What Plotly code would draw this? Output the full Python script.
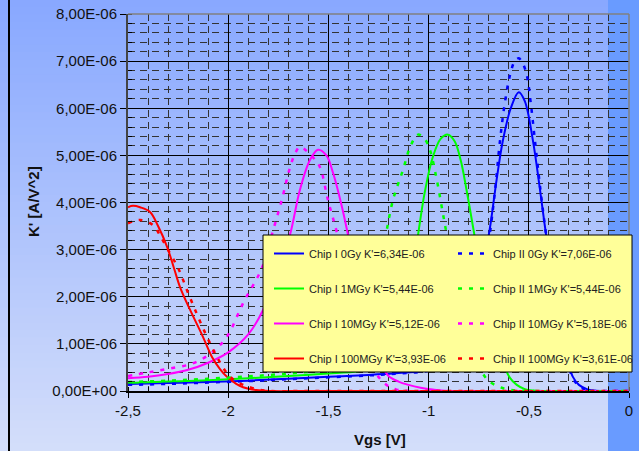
import plotly.graph_objects as go

# ---------------- data (K' in units of 1E-06 A/V^2) ----------------
x_ticks = [-2.5, -2.0, -1.5, -1.0, -0.5, 0.0]
x_ticktext = ["-2,5", "-2", "-1,5", "-1", "-0,5", "0"]
y_ticks = [0, 1, 2, 3, 4, 5, 6, 7, 8]
y_ticktext = ["0,00E+00", "1,00E-06", "2,00E-06", "3,00E-06", "4,00E-06",
              "5,00E-06", "6,00E-06", "7,00E-06", "8,00E-06"]

x_I_0Gy = [-2.5, -2.3, -2.1, -1.9, -1.7, -1.5, -1.3, -1.15, -1.0, -0.92, -0.85, -0.79, -0.74, -0.70,
           -0.66, -0.63, -0.59, -0.55, -0.52, -0.48, -0.445, -0.41, -0.37, -0.33, -0.30, -0.28,
           -0.25, -0.21, -0.18, -0.12, 0.0]
y_I_0Gy = [0.15, 0.17, 0.19, 0.22, 0.26, 0.30, 0.34, 0.38, 0.44, 0.55, 0.85, 1.5, 2.5, 3.3,
           4.5, 5.3, 6.0, 6.34, 6.15, 5.33, 4.3, 3.2, 2.1, 1.1, 0.55, 0.3,
           0.13, 0.04, 0.01, 0.0, 0.0]

x_II_0Gy = [-2.5, -2.3, -2.1, -1.9, -1.7, -1.5, -1.3, -1.15, -1.0, -0.92, -0.85, -0.79, -0.74, -0.70,
            -0.67, -0.644, -0.62, -0.594, -0.57, -0.55, -0.53, -0.51, -0.49, -0.469, -0.44, -0.41,
            -0.37, -0.33, -0.30, -0.27, -0.23, -0.19, -0.12, 0.0]
y_II_0Gy = [0.13, 0.15, 0.18, 0.21, 0.25, 0.29, 0.33, 0.37, 0.43, 0.55, 0.85, 1.5, 2.4, 3.2,
            4.2, 5.3, 6.1, 6.7, 7.0, 7.06, 6.95, 6.7, 6.1, 5.3, 4.2, 3.2,
            2.0, 1.0, 0.5, 0.2, 0.05, 0.01, 0.0, 0.0]

x_I_1MGy = [-2.5, -2.3, -2.1, -1.9, -1.7, -1.5, -1.35, -1.25, -1.18, -1.13, -1.09, -1.053, -1.02,
            -0.98, -0.94, -0.903, -0.87, -0.84, -0.81, -0.773, -0.74, -0.70, -0.66, -0.62, -0.594,
            -0.56, -0.52, -0.48, -0.4, 0.0]
y_I_1MGy = [0.17, 0.2, 0.23, 0.27, 0.32, 0.37, 0.42, 0.5, 0.75, 1.3, 2.2, 3.3, 4.2,
            4.95, 5.35, 5.44, 5.3, 4.9, 4.25, 3.35, 2.5, 1.6, 0.95, 0.5, 0.28,
            0.13, 0.04, 0.01, 0.0, 0.0]

x_II_1MGy = [-2.5, -2.3, -2.1, -1.9, -1.7, -1.55, -1.45, -1.37, -1.31, -1.27, -1.24, -1.218, -1.178,
             -1.128, -1.09, -1.053, -1.02, -0.993, -0.96, -0.93, -0.9, -0.86, -0.82, -0.78, -0.74,
             -0.704, -0.654, -0.6, -0.5, 0.0]
y_II_1MGy = [0.19, 0.22, 0.26, 0.31, 0.37, 0.43, 0.5, 0.75, 1.3, 2.0, 2.7, 3.2, 4.05,
             4.69, 5.2, 5.44, 5.35, 5.11, 4.5, 3.8, 3.1, 2.2, 1.4, 0.85, 0.45,
             0.23, 0.1, 0.03, 0.0, 0.0]

x_I_10MGy = [-2.5, -2.4, -2.3, -2.2, -2.1, -2.0, -1.9, -1.826, -1.76, -1.692, -1.642, -1.592, -1.552,
             -1.51, -1.477, -1.432, -1.402, -1.36, -1.32, -1.28, -1.24, -1.2, -1.15, -1.1, -1.04,
             -0.98, -0.9, 0.0]
y_I_10MGy = [0.27, 0.3, 0.36, 0.45, 0.6, 0.82, 1.2, 1.72, 2.45, 3.31, 4.27, 4.9, 5.12,
             5.0, 4.63, 3.9, 3.31, 2.45, 1.7, 1.1, 0.6, 0.32, 0.2, 0.13, 0.07,
             0.03, 0.0, 0.0]

x_II_10MGy = [-2.5, -2.407, -2.3, -2.174, -2.08, -2.007, -1.925, -1.833, -1.78, -1.733, -1.695,
              -1.665, -1.642, -1.61, -1.575, -1.542, -1.502, -1.457, -1.42, -1.38, -1.33, -1.28,
              -1.24, -1.2, -1.16, -1.1, 0.0]
y_II_10MGy = [0.32, 0.39, 0.47, 0.59, 0.82, 1.15, 1.87, 2.6, 3.35, 4.05, 4.69,
              5.05, 5.18, 5.1, 4.95, 4.75, 4.05, 3.35, 2.6, 1.8, 1.0, 0.5,
              0.25, 0.1, 0.03, 0.0, 0.0]

x_I_100MGy = [-2.5, -2.475, -2.44, -2.39, -2.35, -2.305, -2.27, -2.24, -2.19, -2.126, -2.081,
              -2.04, -2.006, -1.96, -1.926, -1.86, -1.79, -1.6, 0.0]
y_I_100MGy = [3.9, 3.93, 3.9, 3.8, 3.5, 3.06, 2.6, 2.2, 1.72, 1.15, 0.72,
              0.46, 0.3, 0.15, 0.08, 0.02, 0.0, 0.0, 0.0]

x_II_100MGy = [-2.5, -2.44, -2.375, -2.34, -2.305, -2.25, -2.2, -2.15, -2.106, -2.056, -2.006,
               -1.96, -1.906, -1.85, -1.79, -1.6, 0.0]
y_II_100MGy = [3.56, 3.63, 3.52, 3.3, 3.03, 2.61, 2.08, 1.57, 1.15, 0.72, 0.38,
               0.2, 0.1, 0.03, 0.0, 0.0, 0.0]

series = [
    ("Chip I 0Gy K'=6,34E-06", x_I_0Gy, y_I_0Gy, "#0000ff", "solid", "legend"),
    ("Chip I 1MGy K'=5,44E-06", x_I_1MGy, y_I_1MGy, "#00ff00", "solid", "legend"),
    ("Chip I 10MGy K'=5,12E-06", x_I_10MGy, y_I_10MGy, "#ff00ff", "solid", "legend"),
    ("Chip I 100MGy K'=3,93E-06", x_I_100MGy, y_I_100MGy, "#ff0000", "solid", "legend"),
    ("Chip II 0Gy K'=7,06E-06", x_II_0Gy, y_II_0Gy, "#0000ff", "dash", "legend2"),
    ("Chip II 1MGy K'=5,44E-06", x_II_1MGy, y_II_1MGy, "#00ff00", "dash", "legend2"),
    ("Chip II 10MGy K'=5,18E-06", x_II_10MGy, y_II_10MGy, "#ff00ff", "dash", "legend2"),
    ("Chip II 100MGy K'=3,61E-06", x_II_100MGy, y_II_100MGy, "#ff0000", "dash", "legend2"),
]

fig = go.Figure()
for i, (name, xs, ys, col, style, lg) in enumerate(series):
    fig.add_trace(go.Scatter(
        x=xs, y=ys, name=name, mode="lines",
        line=dict(color=col, width=2 if style == "solid" else 2.5,
                  dash="solid" if style == "solid" else "4px,7px",
                  shape="spline", smoothing=1.0),
        legend=lg, legendgroup="g%d" % i,
    ))

# ---------------- geometry helpers (paper coords) ----------------
L, R, T, B = 128, 629, 14, 391
W, H = 639, 451
def px(xp):
    return (xp - L) / (R - L)
def py(yp):
    return (B - yp) / (B - T)

shapes = []
# vertical gradient background
top_c = (136, 168, 255)
bot_c = (212, 222, 250)
nb = 60
for k in range(nb):
    t = (k + 0.5) / nb
    c = tuple(int(round(top_c[j] + (bot_c[j] - top_c[j]) * t)) for j in range(3))
    y0 = H * k / nb - 0.5
    y1 = H * (k + 1) / nb + 0.5
    shapes.append(dict(type="rect", xref="paper", yref="paper", layer="below",
                       x0=px(-2), x1=px(W + 2), y0=py(y1), y1=py(y0),
                       fillcolor="rgb(%d,%d,%d)" % c, line=dict(width=0)))
# right strong-blue strip
shapes.append(dict(type="rect", xref="paper", yref="paper", layer="below",
                   x0=px(608), x1=px(W + 2), y0=py(H + 2), y1=py(-2),
                   fillcolor="rgb(105,155,255)", line=dict(width=0)))
# left black line
shapes.append(dict(type="line", xref="paper", yref="paper", layer="below",
                   x0=px(9), x1=px(9), y0=py(H + 2), y1=py(-2),
                   line=dict(color="black", width=2)))
# plot frame (top/right grey)
shapes.append(dict(type="line", xref="paper", yref="paper", layer="above",
                   x0=0, x1=1, y0=1, y1=1, line=dict(color="#808080", width=1.5)))
shapes.append(dict(type="line", xref="paper", yref="paper", layer="above",
                   x0=1, x1=1, y0=0, y1=1, line=dict(color="#808080", width=1.5)))
# legend box
shapes.append(dict(type="rect", xref="paper", yref="paper", layer="above",
                   x0=px(263), x1=px(632), y0=py(372), y1=py(235),
                   fillcolor="#ffff99", line=dict(color="black", width=1)))

tickfont = dict(family="Liberation Sans, Arial, sans-serif", size=15, color="#111111")
legfont = dict(family="Liberation Sans, Arial, sans-serif", size=11, color="#222222")

fig.update_layout(
    width=W, height=H,
    margin=dict(l=L, r=W - R, t=T, b=H - B, pad=0, autoexpand=False),
    paper_bgcolor="rgb(175,195,252)",
    plot_bgcolor="rgba(0,0,0,0)",
    shapes=shapes,
    showlegend=True,
    legend=dict(x=px(269), y=py(239), xanchor="left", yanchor="top",
                bgcolor="rgba(0,0,0,0)", borderwidth=0, tracegroupgap=16,
                font=legfont, itemclick=False),
    legend2=dict(x=px(453), y=py(239), xanchor="left", yanchor="top",
                 bgcolor="rgba(0,0,0,0)", borderwidth=0, tracegroupgap=16,
                 font=legfont, itemclick=False),
    annotations=[
        dict(text="<b>Vgs [V]</b>", xref="paper", yref="paper", x=px(380), y=py(439),
             xanchor="center", yanchor="middle", showarrow=False,
             font=dict(family="Liberation Sans, Arial, sans-serif", size=15, color="#111111")),
        dict(text="<b>K' [A/V^2]</b>", xref="paper", yref="paper", x=px(33), y=py(202),
             xanchor="center", yanchor="middle", showarrow=False, textangle=-90,
             font=dict(family="Liberation Sans, Arial, sans-serif", size=15, color="#111111")),
    ],
)

fig.update_xaxes(
    range=[-2.5, 0], tickmode="array", tickvals=x_ticks, ticktext=x_ticktext,
    showgrid=True, gridcolor="black", gridwidth=1, zeroline=False,
    showline=True, linecolor="black", linewidth=1.5,
    ticks="outside", ticklen=5, tickcolor="black", tickfont=tickfont,
    minor=dict(tickmode="linear", tick0=0, dtick=0.1, showgrid=True, gridcolor="#333333",
               griddash="7px,5px", gridwidth=1, ticks="inside", ticklen=4, tickcolor="black"),
)
fig.update_yaxes(
    range=[0, 8], tickmode="array", tickvals=y_ticks, ticktext=y_ticktext,
    showgrid=True, gridcolor="black", gridwidth=1, zeroline=False,
    showline=True, linecolor="#444444", linewidth=2,
    ticks="outside", ticklen=6, tickcolor="black", tickfont=tickfont,
    minor=dict(tickmode="linear", tick0=0, dtick=0.2, showgrid=True, gridcolor="#333333",
               griddash="7px,5px", gridwidth=1, ticks="inside", ticklen=4, tickcolor="black"),
)

fig.write_html("out.html")
